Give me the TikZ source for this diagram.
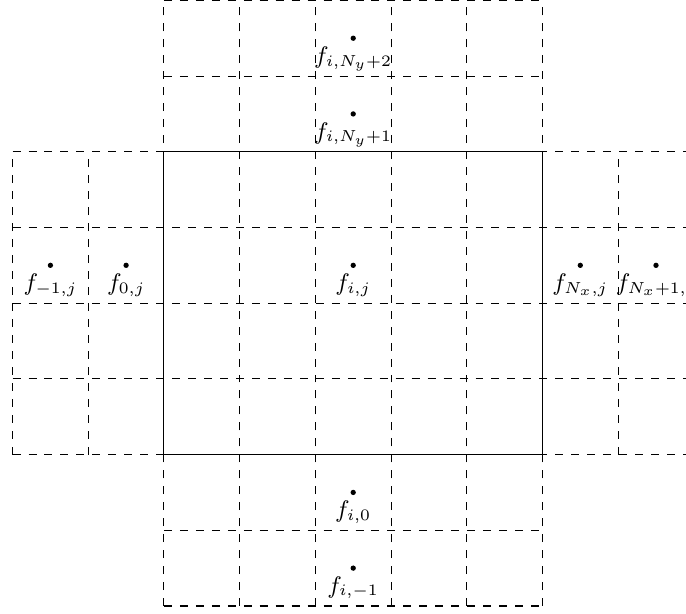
\documentclass[tikz,border=0pt]{standalone}
\usepackage{amsmath,amssymb}
\usepackage{tikz}

\begin{document}
\begin{tikzpicture}[
    gridline/.style={dashed},
    pt/.style={fill=black},
    lbl/.style={below=1pt, inner sep=2pt, font=\small}
]

% Frame
\useasboundingbox (-2.166,-2.10) rectangle (6.896,6.005);

% Ghost cells, rows
\foreach \y in {0,...,4}
    \draw[gridline] (-2,\y) -- (7,\y);
\foreach \y in {-2,-1,5,6}
    \draw[gridline] (0,\y) -- (5,\y);

% Ghost cells, columns
\foreach \x in {0,...,5}
    \draw[gridline] (\x,-2) -- (\x,6);
\foreach \x in {-2,-1,6,7}
    \draw[gridline] (\x,0) -- (\x,4);

% Physical domain
\draw (0,0) rectangle (5,4);

% Cell centres
\coordinate (Lm) at (-1.5,2.5);
\coordinate (L0) at (-0.5,2.5);
\coordinate (C) at (2.5,2.5);
\coordinate (R0) at (5.5,2.5);
\coordinate (Rp) at (6.5,2.5);
\coordinate (T1) at (2.5,4.5);
\coordinate (T2) at (2.5,5.5);
\coordinate (B0) at (2.5,-0.5);
\coordinate (Bm) at (2.5,-1.5);

% Dots
\foreach \p in {Lm,L0,C,R0,Rp,T1,T2,B0,Bm}
    \fill[pt] (\p) circle (1pt);

% Labels
\node[lbl] (lLm) at (Lm) {$f_{-1,j}$};
\node[lbl] (lL0) at (L0) {$f_{0,j}$};
\node[lbl] (lC) at (C) {$f_{i,j}$};
\node[lbl] (lR0) at (R0) {$f_{N_x,j}$};
\node[lbl] (lRp) at (Rp) {$f_{N_x+1,j}$};
\node[lbl] (lT1) at (T1) {$f_{i,N_y+1}$};
\node[lbl] (lT2) at (T2) {$f_{i,N_y+2}$};
\node[lbl] (lB0) at (B0) {$f_{i,0}$};
\node[lbl] (lBm) at (Bm) {$f_{i,-1}$};

\end{tikzpicture}
\end{document}
